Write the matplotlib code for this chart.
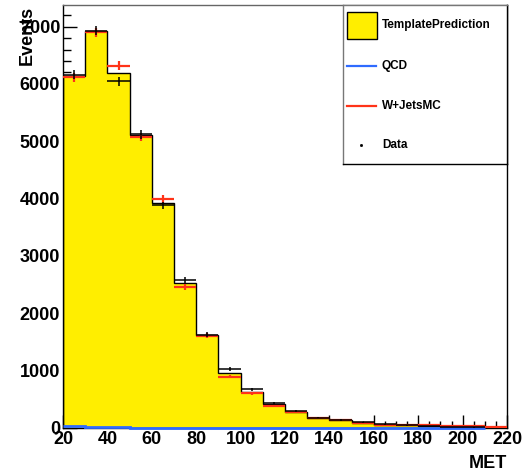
#!/usr/bin/env python3
"""Redraw of the MET template-prediction histogram (ROOT style)."""

import numpy as np
import matplotlib
matplotlib.use("Agg")
import matplotlib.pyplot as plt
from matplotlib.patches import Rectangle
from matplotlib.lines import Line2D
from matplotlib.ticker import MultipleLocator

plt.rcParams["font.family"] = ["Liberation Sans", "DejaVu Sans"]
plt.rcParams["font.weight"] = "bold"

# bin edges of the MET histograms (GeV)
edges_full = np.arange(20, 221, 10)
edges_short = edges_full[:-1]          # template / QCD / data stop at 210

template = [6138, 6922, 6195, 5109, 3918, 2534, 1622, 954, 633, 418,
            279, 180, 140, 92, 58, 47, 35, 15, 10]
qcd = [40, 22, 22, 8, 8, 8, 8, 8, 8, 8, 8, 8, 8, 8, 8, 8, 8, 8, 8]
data = [6160, 6930, 6050, 5120, 3880, 2580, 1630, 1029, 675, 441,
        296, 180, 140, 99, 64, 45, 33, 15, 10]
data_err = [78, 83, 78, 72, 62, 51, 40, 32, 26, 21, 17, 13, 12, 10, 8, 7, 6, 4, 3]
wjets = [6120, 6900, 6318, 5080, 3993, 2464, 1610, 895, 605, 384,
         280, 175, 145, 90, 60, 50, 50, 30, 28, 17]
wjets_err = [78, 83, 79, 71, 63, 50, 40, 30, 25, 20, 17, 13, 12, 9, 8, 7, 7, 6, 5, 4]

YELLOW = "#ffee00"
BLUE = "#2f6bff"
RED = "#ff3318"

W, H = 524, 475
fig = plt.figure(figsize=(W / 100, H / 100), dpi=100)
ax = fig.add_axes([63 / W, 1 - 428 / H, 444 / W, 423 / H])
ax.set_axisbelow(True)   # ticks hidden under the filled histogram, as in ROOT

ax.stairs(template, edges_short, fill=True, color=YELLOW, baseline=0, zorder=1)
ax.stairs(template, edges_short, fill=False, color="black", baseline=0, lw=1.0, zorder=2)
ax.stairs(qcd, edges_short, fill=False, color=BLUE, baseline=None, lw=2.0,
          zorder=3, clip_on=False)

centers_full = 0.5 * (edges_full[:-1] + edges_full[1:])
centers_short = 0.5 * (edges_short[:-1] + edges_short[1:])
ax.errorbar(centers_full, wjets, xerr=5, yerr=wjets_err, fmt="none",
            ecolor=RED, elinewidth=1.6, capsize=0, zorder=4)
ax.errorbar(centers_short, data, xerr=5, yerr=data_err, fmt="none",
            ecolor="black", elinewidth=1.1, capsize=0, zorder=5)

ax.set_xlim(20, 220)
ax.set_ylim(0, 7376)
ax.xaxis.set_major_locator(MultipleLocator(20))
ax.xaxis.set_minor_locator(MultipleLocator(5))
ax.yaxis.set_major_locator(MultipleLocator(1000))
ax.yaxis.set_minor_locator(MultipleLocator(200))
ax.tick_params(which="both", direction="in", top=False, right=False,
               labelsize=13, pad=2)
ax.tick_params(axis="y", which="major", length=10, width=1)
ax.tick_params(axis="y", which="minor", length=5.5, width=1)
ax.tick_params(axis="x", which="major", length=9.5, width=1)
ax.tick_params(axis="x", which="minor", length=5, width=1)
for lab in ax.get_xticklabels() + ax.get_yticklabels():
    lab.set_fontweight("bold")
for side in ax.spines.values():
    side.set_linewidth(1.0)
ax.spines["top"].set_color("#666666")

fig.text(27 / W, 1 - 6 / H, "Events", rotation=90, ha="center", va="top",
         fontsize=13, fontweight="bold")
fig.text(507 / W, 1 - 472 / H, "MET", ha="right", va="bottom",
         fontsize=13, fontweight="bold")

# legend box drawn in pixel coordinates
lg = fig.add_axes([343 / W, 1 - 164 / H, 164 / W, 159 / H])
lg.set_xlim(0, 164)
lg.set_ylim(159, 0)
lg.set_xticks([])
lg.set_yticks([])
for name, side in lg.spines.items():
    side.set_linewidth(1.0)
    side.set_color("#777777" if name in ("left", "top") else "black")
lg.add_patch(Rectangle((4, 7), 30, 27, facecolor=YELLOW, edgecolor="black", lw=1))
lg.add_line(Line2D([4, 33], [61, 61], color=BLUE, lw=1.6))
lg.add_line(Line2D([4, 33], [101, 101], color=RED, lw=1.6))
lg.plot([18], [140], marker="s", ms=1, color="black")
labels = ["TemplatePrediction", "QCD", "W+JetsMC", "Data"]
for y, txt in zip([20, 61, 101, 140], labels):
    lg.text(39, y, txt, ha="left", va="center", fontsize=8.5, fontweight="bold")

fig.savefig("out.png", dpi=100)
